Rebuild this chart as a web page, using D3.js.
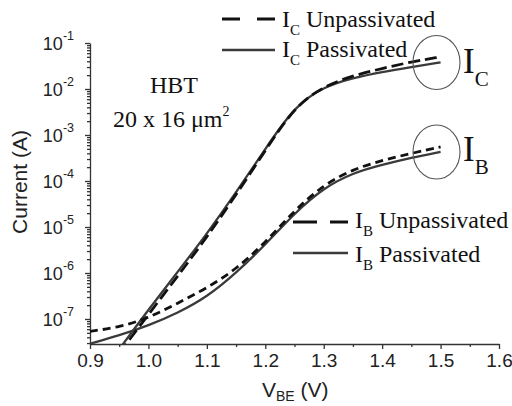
<!DOCTYPE html>
<html lang="en">
<head>
    <meta charset="UTF-8">
    <title>HBT Gummel plot</title>
    <script src="https://d3js.org/d3.v7.min.js"></script>
    <style>
        body {
            margin: 0;
            padding: 0;
            background-color: #fff;
        }
        svg {
            display: block;
            background-color: #fff;
        }
        .axis path, .axis line {
            stroke: #333;
            stroke-width: 1.3px;
        }
        .tick-label {
            font-family: 'Liberation Sans', Arial, sans-serif;
            fill: #222;
        }
        .serif {
            font-family: 'Liberation Serif', 'Times New Roman', serif;
            fill: #111;
        }
    </style>
</head>
<body>
    <svg width="512" height="406"></svg>
    <script>
        // V_BE sweep (V)
        const vbe = [0.90, 0.95, 1.00, 1.05, 1.10, 1.15, 1.20, 1.25, 1.30, 1.35, 1.40, 1.45, 1.50];

        // currents in A
        const icUnpassivated = [null, 1.8e-8, 1.26e-7, 8.5e-7, 6.0e-6, 5.0e-5, 4.6e-4, 4.1e-3, 1.15e-2, 1.95e-2, 2.8e-2, 3.9e-2, 5.0e-2];
        const icPassivated   = [null, 2.2e-8, 1.6e-7, 1.05e-6, 7.1e-6, 5.6e-5, 5.0e-4, 4.2e-3, 1.12e-2, 1.74e-2, 2.35e-2, 3.0e-2, 3.8e-2];
        const ibUnpassivated = [5.4e-8, 6.6e-8, 1.05e-7, 2.2e-7, 4.7e-7, 1.2e-6, 4.6e-6, 2.3e-5, 8.3e-5, 1.8e-4, 2.8e-4, 4.0e-4, 5.5e-4];
        const ibPassivated   = [2.9e-8, 4.4e-8, 7.2e-8, 1.35e-7, 3.0e-7, 1.0e-6, 4.1e-6, 2.0e-5, 7.1e-5, 1.5e-4, 2.25e-4, 3.2e-4, 4.3e-4];

        const xTicks = [0.9, 1.0, 1.1, 1.2, 1.3, 1.4, 1.5, 1.6];
        const xMinor = [0.95, 1.05, 1.15, 1.25, 1.35, 1.45, 1.55];
        const yExponents = [-7, -6, -5, -4, -3, -2, -1];

        const svg = d3.select("svg");

        const x = d3.scaleLinear().domain([0.9, 1.6]).range([90, 499]);
        const y = d3.scaleLog().domain([2.86e-8, 0.1]).range([344, 43]);

        // minor log ticks
        const yMinor = [];
        for (let e = -8; e <= -2; e++) {
            for (let m = 2; m <= 9; m++) {
                const v = m * Math.pow(10, e);
                if (v >= y.domain()[0] && v < 0.1) yMinor.push(v);
            }
        }

        svg.append("g")
            .attr("class", "axis")
            .attr("transform", "translate(90,0)")
            .call(d3.axisLeft(y).tickValues(yMinor).tickSize(3).tickFormat(""))
            .select(".domain").remove();

        svg.append("g")
            .attr("class", "axis")
            .attr("transform", "translate(90,0)")
            .call(d3.axisLeft(y).tickValues(yExponents.map(e => Math.pow(10, e))).tickSize(5).tickSizeOuter(0).tickFormat(""));

        yExponents.forEach(e => {
            const t = svg.append("text")
                .attr("class", "tick-label")
                .attr("font-size", 18)
                .attr("x", 74)
                .attr("y", y(Math.pow(10, e)) + 7)
                .attr("text-anchor", "end");
            t.append("tspan").text("10");
            t.append("tspan").attr("dy", -10).attr("font-size", 12.5).text(String(e));
        });

        svg.append("g")
            .attr("class", "axis")
            .attr("transform", "translate(0,344)")
            .call(d3.axisBottom(x).tickValues(xMinor).tickSize(3).tickFormat(""))
            .select(".domain").remove();

        const xAxis = svg.append("g")
            .attr("class", "axis")
            .attr("transform", "translate(0,344)")
            .call(d3.axisBottom(x).tickValues(xTicks).tickSize(5).tickSizeOuter(0).tickFormat(d3.format(".1f")));
        xAxis.selectAll("text")
            .attr("class", "tick-label")
            .attr("font-size", 19)
            .attr("font-family", null)
            .attr("dy", null)
            .attr("y", 23);

        // axis titles
        svg.append("text")
            .attr("class", "tick-label")
            .attr("font-size", 21)
            .attr("transform", "translate(27,182) rotate(-90)")
            .attr("text-anchor", "middle")
            .text("Current (A)");

        const xt = svg.append("text")
            .attr("class", "tick-label")
            .attr("font-size", 21)
            .attr("x", 262)
            .attr("y", 397);
        xt.append("tspan").text("V");
        xt.append("tspan").attr("font-size", 14).attr("dy", 4).text("BE");
        xt.append("tspan").attr("dy", -4).text(" (V)");

        // curves
        svg.append("clipPath").attr("id", "plot")
            .append("rect").attr("x", 90).attr("y", 0).attr("width", 420).attr("height", 344);

        const line = d3.line()
            .defined(d => d[1] != null)
            .x(d => x(d[0]))
            .y(d => y(d[1]))
            .curve(d3.curveBasis);

        const series = [
            { values: ibPassivated, color: "#3a3a3a", width: 2.3, dash: null },
            { values: icPassivated, color: "#3a3a3a", width: 2.3, dash: null },
            { values: ibUnpassivated, color: "#111", width: 2.8, dash: "8,5" },
            { values: icUnpassivated, color: "#111", width: 2.8, dash: "12,5" }
        ];

        series.forEach(s => {
            svg.append("path")
                .attr("clip-path", "url(#plot)")
                .attr("d", line(vbe.map((v, i) => [v, s.values[i]])))
                .attr("fill", "none")
                .attr("stroke", s.color)
                .attr("stroke-width", s.width)
                .attr("stroke-dasharray", s.dash);
        });

        // legends
        function legendRow(x0, x1, ly, ty, dash, sub, label) {
            svg.append("line")
                .attr("x1", x0).attr("x2", x1)
                .attr("y1", ly).attr("y2", ly)
                .attr("stroke", dash ? "#111" : "#3a3a3a")
                .attr("stroke-width", dash ? 3 : 2.3)
                .attr("stroke-dasharray", dash);
            const t = svg.append("text")
                .attr("class", "serif")
                .attr("x", x1 + 7)
                .attr("y", ty)
                .attr("font-size", 24);
            t.append("tspan").text("I");
            t.append("tspan").attr("font-size", 15).attr("dy", 8).text(sub);
            t.append("tspan").attr("dy", -8).text(" " + label);
        }
        legendRow(222, 275, 19, 27, "18,17", "C", "Unpassivated");
        legendRow(222, 275, 50, 57, null, "C", "Passivated");
        legendRow(293, 348, 222, 228, "24,13", "B", "Unpassivated");
        legendRow(293, 348, 253, 262, null, "B", "Passivated");

        // HBT annotation
        svg.append("text")
            .attr("class", "serif")
            .attr("x", 174).attr("y", 93)
            .attr("text-anchor", "middle")
            .attr("font-size", 24)
            .text("HBT");
        const area = svg.append("text")
            .attr("class", "serif")
            .attr("x", 113).attr("y", 127)
            .attr("font-size", 24);
        area.append("tspan").text("20 x 16 \u03bcm");
        area.append("tspan").attr("font-size", 14).attr("dy", -11).text("2");

        // circled ends
        [["C", 62.5, 73], ["B", 152, 161]].forEach(([sub, cy, ty]) => {
            svg.append("ellipse")
                .attr("cx", 436.5).attr("cy", cy)
                .attr("rx", 23.5).attr("ry", 27)
                .attr("fill", "none")
                .attr("stroke", "#555")
                .attr("stroke-width", 1.1);
            const t = svg.append("text")
                .attr("class", "serif")
                .attr("x", 463).attr("y", ty)
                .attr("font-size", 35);
            t.append("tspan").text("I");
            t.append("tspan").attr("font-size", 21).attr("dy", 13).text(sub);
        });
    </script>
</body>
</html>
